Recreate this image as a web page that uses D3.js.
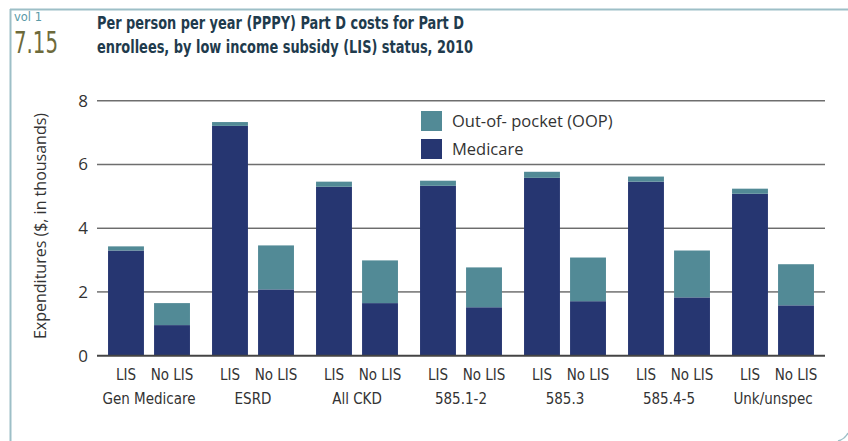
<!DOCTYPE html>
<html>
<head>
<meta charset="utf-8">
<script src="https://cdn.jsdelivr.net/npm/d3@7"></script>
<style>
  body { margin: 0; background: #fff; }
  svg text { fill: #333; }
  .narrow { font-family: "Liberation Sans Narrow", "DejaVu Sans Condensed", sans-serif; font-stretch: condensed; }
  .reg { font-family: "Open Sans", "Noto Sans", sans-serif; }
</style>
</head>
<body>
<script>
// groups and bars
var groups = ["Gen Medicare", "ESRD", "All CKD", "585.1-2", "585.3", "585.4-5", "Unk/unspec"];
var subs = ["LIS", "No LIS"];
// values in $ thousands, order: LIS, No LIS per group
var medicare = [3.30, 0.96, 7.21, 2.08, 5.30, 1.65, 5.33, 1.52, 5.58, 1.71, 5.46, 1.83, 5.08, 1.58];
var oop      = [0.13, 0.69, 0.12, 1.38, 0.16, 1.34, 0.16, 1.25, 0.19, 1.37, 0.16, 1.47, 0.16, 1.29];
var yTicks = [0, 2, 4, 6, 8];
var seriesNames = ["Out-of- pocket (OOP)", "Medicare"];
var colors = { medicare: "#263671", oop: "#528a96" };

var width = 848, height = 441;

var svg = d3.select("body").append("svg")
    .attr("width", width)
    .attr("height", height);

// frame lines
svg.append("line").attr("x1", 10).attr("x2", width).attr("y1", 9.5).attr("y2", 9.5)
    .attr("stroke", "#9dbfc7").attr("stroke-width", 2);
svg.append("line").attr("x1", 10.5).attr("x2", 10.5).attr("y1", 9).attr("y2", height)
    .attr("stroke", "#9dbfc7").attr("stroke-width", 2);
svg.append("path").attr("d", "M838,441 Q845,439 848,433")
    .attr("fill", "none").attr("stroke", "#9dbfc7").attr("stroke-width", 1.5);

// header
svg.append("text").attr("class", "narrow").attr("x", 14).attr("y", 20.5)
    .attr("textLength", 28).attr("lengthAdjust", "spacingAndGlyphs")
    .style("font-size", "12.5px").style("fill", "#5a9aa7").text("vol 1");
svg.append("text").attr("class", "narrow").attr("x", 14).attr("y", 53)
    .attr("textLength", 44).attr("lengthAdjust", "spacingAndGlyphs")
    .style("font-size", "30px").style("fill", "#6d6a3b").text("7.15");
var title = svg.append("text").attr("class", "narrow")
    .style("font-size", "17px").style("font-weight", "bold").style("fill", "#1f3b4d");
title.append("tspan").attr("x", 97).attr("y", 28.5)
    .attr("textLength", 367).attr("lengthAdjust", "spacingAndGlyphs")
    .text("Per person per year (PPPY) Part D costs for Part D");
title.append("tspan").attr("x", 97).attr("y", 52.5)
    .attr("textLength", 376).attr("lengthAdjust", "spacingAndGlyphs")
    .text("enrollees, by low income subsidy (LIS) status, 2010");

// scales
var x0 = d3.scaleBand().domain(groups).range([97, 825]);
var x1 = d3.scaleBand().domain(subs).range([0, x0.bandwidth()])
    .paddingInner(0.22).paddingOuter(0.24);
var y = d3.scaleLinear().domain([0, 8]).range([355.7, 100.7]);

// gridlines
svg.append("g").selectAll("line").data(yTicks.filter(function(d){ return d > 0; }))
  .enter().append("line")
    .attr("x1", 97).attr("x2", 825)
    .attr("y1", function(d){ return y(d); })
    .attr("y2", function(d){ return y(d); })
    .attr("stroke", function(d){ return d > 4 ? "#6e6e6e" : "#2a2a2a"; })
    .attr("stroke-width", function(d){ return d > 4 ? 1.4 : 1; });

// y tick labels
svg.append("g").selectAll("text").data(yTicks).enter().append("text")
    .attr("class", "reg")
    .attr("x", 88).attr("y", function(d){ return y(d); })
    .attr("dy", "0.35em").attr("text-anchor", "end")
    .style("font-size", "17px")
    .text(function(d){ return d; });

// y title
svg.append("text").attr("class", "reg")
    .attr("transform", "translate(46,226) rotate(-90)")
    .attr("text-anchor", "middle")
    .style("font-size", "16px")
    .text("Expenditures ($, in thousands)");

// bars
var rows = [];
groups.forEach(function(g, i) {
  subs.forEach(function(s, j) {
    var k = i * 2 + j;
    rows.push({ group: g, sub: s, medicare: medicare[k], oop: oop[k] });
  });
});

var bar = svg.append("g").selectAll("g").data(rows).enter().append("g")
    .attr("transform", function(d){ return "translate(" + (x0(d.group) + x1(d.sub)) + ",0)"; });

bar.append("rect")
    .attr("width", x1.bandwidth())
    .attr("y", function(d){ return y(d.medicare); })
    .attr("height", function(d){ return y(0) - y(d.medicare); })
    .attr("fill", colors.medicare);

bar.append("rect")
    .attr("width", x1.bandwidth())
    .attr("y", function(d){ return y(d.medicare + d.oop); })
    .attr("height", function(d){ return y(d.medicare) - y(d.medicare + d.oop); })
    .attr("fill", colors.oop);

bar.append("text").attr("class", "narrow")
    .attr("x", x1.bandwidth() / 2).attr("y", 380)
    .attr("text-anchor", "middle")
    .style("font-size", "15px")
    .text(function(d){ return d.sub; });

// baseline
svg.append("line").attr("x1", 97).attr("x2", 825)
    .attr("y1", y(0)).attr("y2", y(0))
    .attr("stroke", "#444").attr("stroke-width", 2);

// group labels
svg.append("g").selectAll("text").data(groups).enter().append("text")
    .attr("class", "narrow")
    .attr("x", function(d){ return x0(d) + x0.bandwidth() / 2; })
    .attr("y", 404)
    .attr("text-anchor", "middle")
    .style("font-size", "15px")
    .text(function(d){ return d; });

// legend
var legend = svg.append("g").selectAll("g").data(seriesNames).enter().append("g")
    .attr("transform", function(d, i){ return "translate(421," + (111 + i * 28) + ")"; });
legend.append("rect").attr("width", 21).attr("height", 20)
    .attr("fill", function(d, i){ return i === 0 ? colors.oop : colors.medicare; });
legend.append("text").attr("class", "reg")
    .attr("x", 31).attr("y", 10).attr("dy", "0.35em")
    .style("font-size", "16.5px")
    .text(function(d){ return d; });
</script>
</body>
</html>
